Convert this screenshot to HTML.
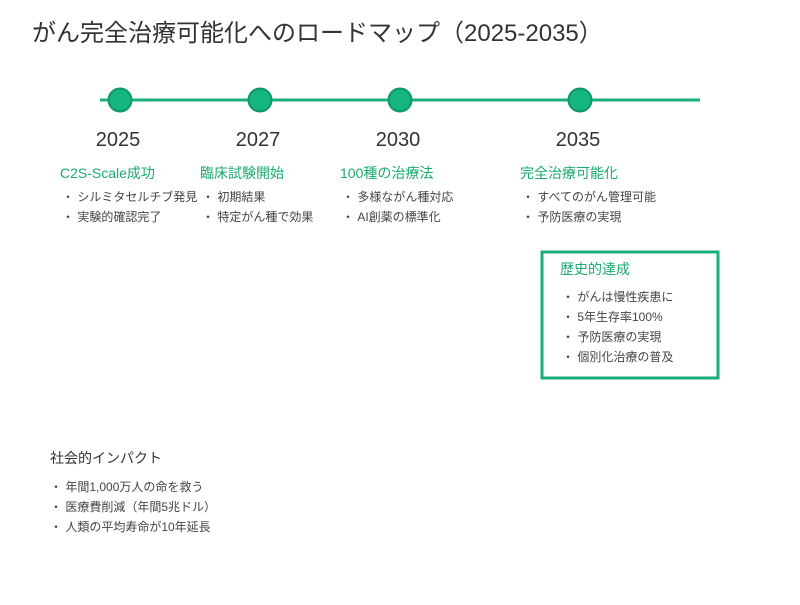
<!DOCTYPE html>
<html><head><meta charset="utf-8"><style>
body{margin:0;background:#fff;}
svg text{font-family:"Liberation Sans","Noto Sans CJK JP",sans-serif;}
</style></head><body>
<svg width="800" height="600" xmlns="http://www.w3.org/2000/svg">
<rect width="800" height="600" fill="#fff"/>
<text x="32" y="41" font-size="24" fill="#333">がん完全治療可能化へのロードマップ（2025-2035）</text>
<line x1="100" y1="100" x2="700" y2="100" stroke="#1aaf7a" stroke-width="3"/>
<g fill="#15b57e" stroke="#0f9866" stroke-width="2">
<circle cx="120" cy="100" r="11.5"/><circle cx="260" cy="100" r="11.5"/><circle cx="400" cy="100" r="11.5"/><circle cx="580" cy="100" r="11.5"/>
</g>
<g font-size="20" fill="#333" text-anchor="middle">
<text x="118" y="146">2025</text><text x="258" y="146">2027</text><text x="398" y="146">2030</text><text x="578" y="146">2035</text>
</g>
<g font-size="14" fill="#1aaa72">
<text x="60" y="178">C2S-Scale成功</text><text x="200" y="178">臨床試験開始</text><text x="340" y="178">100種の治療法</text><text x="520" y="178">完全治療可能化</text>
</g>
<g font-size="12" fill="#444">
<text x="62" y="201">・ シルミタセルチブ発見</text><text x="62" y="221">・ 実験的確認完了</text>
<text x="202" y="201">・ 初期結果</text><text x="202" y="221">・ 特定がん種で効果</text>
<text x="342" y="201">・ 多様ながん種対応</text><text x="342" y="221">・ AI創薬の標準化</text>
<text x="522" y="201">・ すべてのがん管理可能</text><text x="522" y="221">・ 予防医療の実現</text>
</g>
<rect x="542" y="252" width="176" height="126" fill="#fff" stroke="#1aaf7a" stroke-width="3"/>
<text x="560" y="274" font-size="14" fill="#1aaa72">歴史的達成</text>
<g font-size="12" fill="#444">
<text x="562" y="301">・ がんは慢性疾患に</text><text x="562" y="321">・ 5年生存率100%</text>
<text x="562" y="341">・ 予防医療の実現</text><text x="562" y="361">・ 個別化治療の普及</text>
</g>
<text x="50" y="463" font-size="14" fill="#333">社会的インパクト</text>
<g font-size="12" fill="#444">
<text x="50" y="491">・ 年間1,000万人の命を救う</text><text x="50" y="511">・ 医療費削減（年間5兆ドル）</text><text x="50" y="531">・ 人類の平均寿命が10年延長</text>
</g>
</svg>
</body></html>
